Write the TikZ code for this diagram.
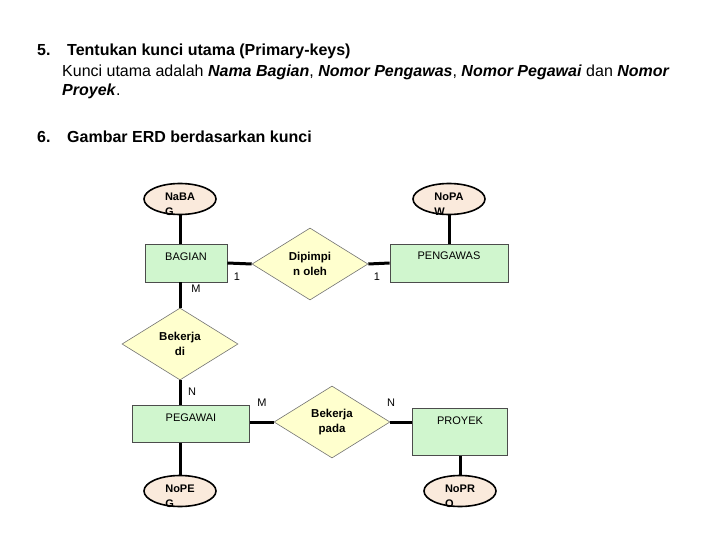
\documentclass[tikz,border=0pt]{standalone}
\usepackage{fontspec}
\setmainfont{Liberation Sans}
\usetikzlibrary{shapes.geometric}
\definecolor{keyfill}{RGB}{250,234,220}
\definecolor{entfill}{RGB}{208,246,206}
\definecolor{relfill}{RGB}{255,255,206}

\begin{document}
\begin{tikzpicture}[x=1pt,y=-1pt,
  head/.style={anchor=base west,inner sep=0pt,font=\fontsize{16}{19}\selectfont},
  key/.style={ellipse,draw=black,line width=1.6pt,fill=keyfill,inner sep=0pt,minimum width=72pt,minimum height=31pt},
  keytext/.style={align=left,inner sep=0pt,font=\bfseries\fontsize{11}{15}\selectfont},
  entity/.style={draw=black!70,line width=0.8pt,fill=entfill,inner sep=0pt,text height=8pt,font=\fontsize{11}{13}\selectfont},
  relation/.style={diamond,draw=black!55,line width=0.6pt,fill=relfill,inner sep=0pt,shape aspect=1.6,minimum width=116pt,minimum height=72pt,align=center,font=\bfseries\fontsize{11.5}{15}\selectfont},
  card/.style={inner sep=0pt,font=\fontsize{11}{13}\selectfont},
  link/.style={line width=3pt}]
  \useasboundingbox (0,0) rectangle (720,540);

  % keterangan
  \node[head,font=\bfseries\fontsize{16}{19}\selectfont] (h5) at (37,56) {5.};
  \node[head,font=\bfseries\fontsize{16}{19}\selectfont] (h5t) at (67,56) {Tentukan kunci utama (Primary-keys)};
  \node[head] (h5a) at (62,77) {Kunci utama adalah \textbf{\textit{Nama Bagian}}, \textbf{\textit{Nomor Pengawas}}, \textbf{\textit{Nomor Pegawai}} dan \textbf{\textit{Nomor}}};
  \node[head] (h5b) at (62,96) {\textbf{\textit{Proyek}}.};
  \node[head,font=\bfseries\fontsize{16}{19}\selectfont] (h6) at (37,143) {6.};
  \node[head,font=\bfseries\fontsize{16}{19}\selectfont] (h6t) at (67,143) {Gambar ERD berdasarkan kunci};

  % atribut kunci
  \node[key] (NaBAG) at (180,199) {};
  \node[keytext] (NaBAGt) at (180,204) {NaBA\\G};
  \node[key] (NoPAW) at (449,199) {};
  \node[keytext] (NoPAWt) at (449,204) {NoPA\\W};
  \node[key] (NoPEG) at (180,491) {};
  \node[keytext] (NoPEGt) at (180,496) {NoPE\\G};
  \node[key] (NoPRO) at (460,491) {};
  \node[keytext] (NoPROt) at (460,496) {NoPR\\O};

  % entitas
  \node[entity,minimum width=82pt,minimum height=38pt,text depth=14pt] (BAGIAN) at (186,263) {BAGIAN};
  \node[entity,minimum width=118pt,minimum height=38pt,text depth=16pt] (PENGAWAS) at (449,263) {PENGAWAS};
  \node[entity,minimum width=117pt,minimum height=37pt,text depth=13pt] (PEGAWAI) at (191,424) {PEGAWAI};
  \node[entity,minimum width=95pt,minimum height=47pt,text depth=24pt] (PROYEK) at (460,432) {PROYEK};

  % relasi
  \node[relation] (Dipimpi) at (310,264) {Dipimpi\\n oleh};
  \node[relation] (BekerjaDi) at (180,344) {Bekerja\\di};
  \node[relation] (BekerjaPada) at (332,422) {Bekerja\\pada};

  % kardinalitas
  \node[card] (c1) at (237,277) {1};
  \node[card] (c2) at (377,277) {1};
  \node[card] (c3) at (196,289) {M};
  \node[card] (c4) at (192,392) {N};
  \node[card] (c5) at (262,403) {M};
  \node[card] (c6) at (391,403) {N};

  \draw[link] (NaBAG.south) -- (NaBAG.south |- BAGIAN.north);
  \draw[link] (NoPAW.south) -- (PENGAWAS.north);
  \draw[link] (BAGIAN.east) -- (Dipimpi.west);
  \draw[link] (Dipimpi.east) -- (PENGAWAS.west);
  \draw[link] (BekerjaDi.north |- BAGIAN.south) -- (BekerjaDi.north);
  \draw[link] (BekerjaDi.south) -- (BekerjaDi.south |- PEGAWAI.north);
  \draw[link] (PEGAWAI.east |- BekerjaPada.west) -- (BekerjaPada.west);
  \draw[link] (BekerjaPada.east) -- (BekerjaPada.east -| PROYEK.west);
  \draw[link] (NoPEG.north |- PEGAWAI.south) -- (NoPEG.north);
  \draw[link] (PROYEK.south) -- (NoPRO.north);
\end{tikzpicture}
\end{document}
